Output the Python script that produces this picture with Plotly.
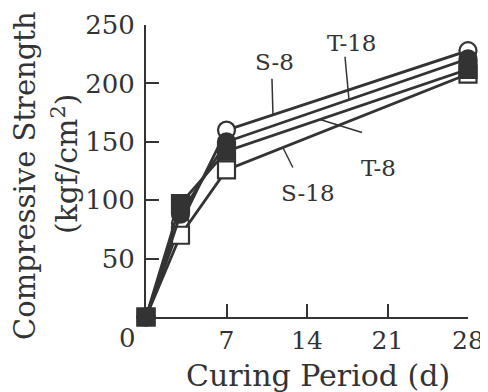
import numpy as np
import plotly.graph_objects as go

# ---- data ----
days = [0, 3, 7, 28]
series_names = ["S-8", "S-18", "T-18", "T-8"]
s8 = [0, 80, 160, 228]
s18 = [0, 70, 126, 208]
t18 = [0, 88, 150, 221]
t8 = [0, 97, 142, 212]
x_ticks = [7, 14, 21, 28]
y_ticks = [50, 100, 150, 200, 250]

INK = "#333333"
FONT = "DejaVu Serif"

series = {"S-8": s8, "S-18": s18, "T-18": t18, "T-8": t8}
markers = {
    "S-8": dict(symbol="circle", color="white"),
    "S-18": dict(symbol="square", color="white"),
    "T-18": dict(symbol="circle", color=INK),
    "T-8": dict(symbol="square", color=INK),
}

fig = go.Figure()
for name in series_names:
    m = markers[name]
    fig.add_trace(go.Scatter(
        x=days, y=series[name], mode="lines+markers", name=name,
        line=dict(color=INK, width=2.8),
        marker=dict(symbol=m["symbol"], size=17, color=m["color"],
                    line=dict(color=INK, width=2.2)),
        cliponaxis=False, showlegend=False,
    ))

# series labels with leader lines (anchored on the series lines)
labels = [
    # name, label x (day), label y, leader-end day, leader start pixel offset (dx, dy up)
    ("S-8", 11.2, 218, 11.04, (-1, 36)),
    ("T-18", 17.9, 234.5, 17.65, (-4, 43)),
    ("T-8", 20.2, 128, 15.13, (42, -13)),
    ("S-18", 14.1, 106.5, 11.9, (10, -20)),
]
for name, lx, ly, ex, (dx, dy) in labels:
    ey = float(np.interp(ex, days, series[name]))
    fig.add_shape(type="line", xref="x", yref="y",
                  xsizemode="pixel", ysizemode="pixel",
                  xanchor=ex, yanchor=ey, x0=dx, y0=dy, x1=0, y1=0,
                  line=dict(color=INK, width=1.5))
    fig.add_annotation(x=lx, y=ly, xref="x", yref="y", text=name,
                       xanchor="center", yanchor="middle",
                       showarrow=False, font=dict(family=FONT, size=23, color=INK))

# axis titles and shared zero label
fig.add_annotation(x=-0.376, y=0.486, xref="paper", yref="paper",
                   xanchor="center", yanchor="middle",
                   text="Compressive Strength", textangle=-90, showarrow=False,
                   font=dict(family=FONT, size=29, color=INK))
fig.add_annotation(x=-0.2516, y=0.527, xref="paper", yref="paper",
                   xanchor="center", yanchor="middle",
                   text="(kgf/cm<sup>2</sup>)", textangle=-90, showarrow=False,
                   font=dict(family=FONT, size=30, color=INK))
fig.add_annotation(x=0.534, y=-0.202, xref="paper", yref="paper",
                   xanchor="center", yanchor="middle",
                   text="Curing Period (d)", showarrow=False,
                   font=dict(family=FONT, size=30, color=INK))
fig.add_annotation(x=-0.059, y=-0.072, xref="paper", yref="paper",
                   xanchor="center", yanchor="middle",
                   text="0", showarrow=False,
                   font=dict(family=FONT, size=26, color=INK))

fig.update_xaxes(range=[0, 28], tickvals=x_ticks, ticktext=[str(v) for v in x_ticks],
                 ticks="inside", ticklen=13, tickwidth=2, tickcolor=INK, automargin=False,
                 showline=True, linecolor=INK, linewidth=2, showgrid=False, zeroline=False,
                 tickfont=dict(family=FONT, size=25, color=INK), ticklabelstandoff=0)
fig.update_yaxes(range=[0, 250], tickvals=y_ticks, ticktext=[str(v) for v in y_ticks],
                 ticks="inside", ticklen=13, tickwidth=2, tickcolor=INK, automargin=False,
                 showline=True, linecolor=INK, linewidth=2, showgrid=False, zeroline=False,
                 tickfont=dict(family=FONT, size=26, color=INK), ticklabelstandoff=4)

fig.update_layout(width=488, height=392, margin=dict(l=138, r=28, t=17, b=83),
                  plot_bgcolor="white", paper_bgcolor="white")

fig.write_html("out.html")
